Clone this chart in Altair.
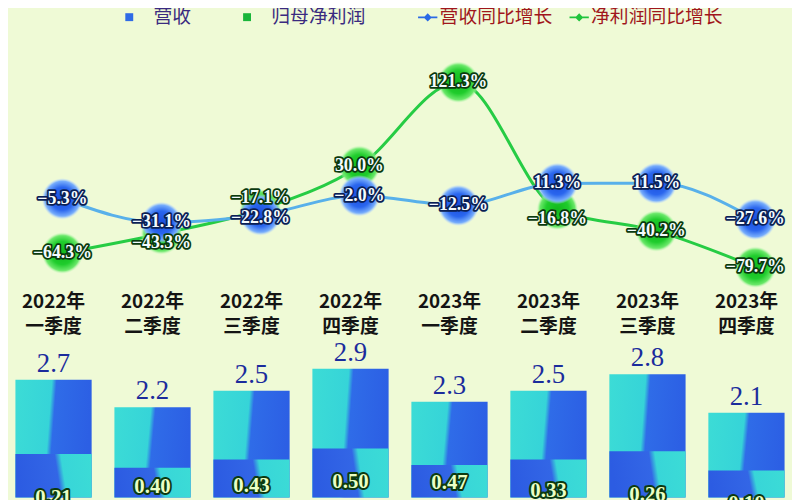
import altair as alt
import pandas as pd

categories = ["2022年 一季度", "2022年 二季度", "2022年 三季度", "2022年 四季度",
              "2023年 一季度", "2023年 二季度", "2023年 三季度", "2023年 四季度"]
revenue = [2.7, 2.2, 2.5, 2.9, 2.3, 2.5, 2.8, 2.1]
net_profit = [0.21, 0.40, 0.43, 0.50, 0.47, 0.33, 0.26, 0.10]
revenue_yoy = [-5.3, -31.1, -22.8, -2.0, -12.5, 11.3, 11.5, -27.6]
profit_yoy = [-64.3, -43.3, -17.1, 30.0, 121.3, -16.8, -40.2, -79.7]
bar_series = ["营收", "归母净利润"]
line_series = ["营收同比增长", "净利润同比增长"]

df = pd.DataFrame({"cat": categories, "rev": revenue, "np": net_profit,
                   "rev_yoy": revenue_yoy, "np_yoy": profit_yoy})

W, H = 792, 492
ybar = alt.Scale(domain=[0.558, 9.423], zero=False, nice=False)
yline = alt.Scale(domain=[-329.8, 199.2], zero=False, nice=False)

x = alt.X("cat:N", sort=categories,
          scale=alt.Scale(range=[-4, 796], paddingInner=0.23, paddingOuter=0.115),
          axis=alt.Axis(orient="bottom", offset=-209, domain=False, ticks=False, grid=False,
                        labelAngle=0, labelExpr="split(datum.label, ' ')",
                        labelFont="Noto Sans CJK SC", labelFontWeight="bold", labelFontSize=19,
                        labelColor="#141414", labelLineHeight=25, labelPadding=2,
                        labelBaseline="top", labelOverlap=False, title=None))

base = alt.Chart(df)

grad_top = alt.LinearGradient(gradient="linear", x1=0, y1=0, x2=1, y2=0.15, stops=[
    alt.GradientStop(offset=0, color="#3cdcd6"),
    alt.GradientStop(offset=0.47, color="#36d4d8"),
    alt.GradientStop(offset=0.53, color="#2f6ce8"),
    alt.GradientStop(offset=1, color="#2c5fe4")])
grad_bot = alt.LinearGradient(gradient="linear", x1=0, y1=0, x2=1, y2=-0.15, stops=[
    alt.GradientStop(offset=0, color="#2c5ce2"),
    alt.GradientStop(offset=0.5, color="#3366e6"),
    alt.GradientStop(offset=0.58, color="#38d6d8"),
    alt.GradientStop(offset=1, color="#3cdcd6")])

legend_bars = base.transform_fold(["rev", "np"], as_=["key", "val"]).transform_calculate(
    bseries="datum.key == 'rev' ? '营收' : '归母净利润'"
).mark_bar(opacity=0, clip=True).encode(
    x=x,
    y=alt.Y("val:Q", scale=ybar, axis=None),
    y2=alt.datum(0),
    fill=alt.Fill("bseries:N", scale=alt.Scale(domain=bar_series, range=["#2f6be6", "#19b53a"]),
                  legend=alt.Legend(orient="none", legendX=113, legendY=-3, direction="horizontal",
                                    title=None, symbolType="square", symbolSize=64, symbolOpacity=1,
                                    symbolStrokeWidth=0, labelFont="Noto Sans CJK SC",
                                    labelFontSize=19, labelColor="#3a2a80", labelOffset=15,
                                    columnPadding=46)),
)

diamond_line = "M-1,-0.09L1,-0.09L1,0.09L-1,0.09ZM0,-0.42L0.42,0L0,0.42L-0.42,0Z"
legend_lines = base.transform_fold(["rev_yoy", "np_yoy"], as_=["key", "val"]).transform_calculate(
    lseries="datum.key == 'rev_yoy' ? '营收同比增长' : '净利润同比增长'"
).mark_point(opacity=0, filled=True).encode(
    x=x,
    y=alt.Y("val:Q", scale=yline, axis=None),
    color=alt.Color("lseries:N", scale=alt.Scale(domain=line_series, range=["#2a6ae6", "#1fc43c"]),
                    legend=alt.Legend(orient="none", legendX=414, legendY=-3, direction="horizontal",
                                      title=None, symbolType=diamond_line, symbolSize=380,
                                      symbolOpacity=1, symbolStrokeWidth=0,
                                      labelFont="Noto Sans CJK SC", labelFontSize=19,
                                      labelColor="#a0161c", labelOffset=2, columnPadding=16)),
)

bars_top = base.mark_bar(clip=True, color=grad_top).encode(
    x=x, y=alt.Y("rev:Q", scale=ybar, axis=None), y2=alt.datum(0))
bars_bot = base.transform_calculate(half="datum.rev / 2").mark_bar(clip=True, color=grad_bot).encode(
    x=x, y=alt.Y("half:Q", scale=ybar, axis=None), y2=alt.datum(0))

rev_labels = base.mark_text(font="Liberation Serif", fontSize=27, color="#1b2c9c",
                            baseline="bottom", dy=-2).encode(
    x=x, y=alt.Y("rev:Q", scale=ybar, axis=None), text=alt.Text("rev:Q", format=".1f"))

np_out = base.mark_text(font="Liberation Serif", fontWeight="bold", fontSize=21, color="#0c3a10",
                        stroke="#0c3a10", strokeWidth=4, strokeJoin="round", dy=-19).encode(
    x=x, y=alt.Y("np:Q", scale=ybar, axis=None), text=alt.Text("np:Q", format=".2f"))
np_in = base.mark_text(font="Liberation Serif", fontWeight="bold", fontSize=21, color="#eaffc6",
                       dy=-19).encode(
    x=x, y=alt.Y("np:Q", scale=ybar, axis=None), text=alt.Text("np:Q", format=".2f"))

line_np = base.mark_line(color="#26cc44", strokeWidth=3, interpolate="monotone", xOffset=9).encode(
    x=x, y=alt.Y("np_yoy:Q", scale=yline, axis=None))
line_rev = base.mark_line(color="#58b0ea", strokeWidth=3, interpolate="monotone", xOffset=9).encode(
    x=x, y=alt.Y("rev_yoy:Q", scale=yline, axis=None))

rad_green = alt.RadialGradient(gradient="radial", x1=0.5, y1=0.5, r1=0, x2=0.5, y2=0.5, r2=0.5, stops=[
    alt.GradientStop(offset=0, color="#12b81c"),
    alt.GradientStop(offset=0.55, color="#1fcc2c"),
    alt.GradientStop(offset=0.85, color="#6be86a"),
    alt.GradientStop(offset=1, color="rgba(200,250,190,0)")])
rad_blue = alt.RadialGradient(gradient="radial", x1=0.5, y1=0.5, r1=0, x2=0.5, y2=0.5, r2=0.5, stops=[
    alt.GradientStop(offset=0, color="#1a4ddc"),
    alt.GradientStop(offset=0.55, color="#2a66ee"),
    alt.GradientStop(offset=0.85, color="#78aefc"),
    alt.GradientStop(offset=1, color="rgba(200,225,255,0)")])

mk_np = base.mark_point(filled=True, shape="circle", size=1750, opacity=1, fill=rad_green,
                        strokeWidth=0, xOffset=9).encode(
    x=x, y=alt.Y("np_yoy:Q", scale=yline, axis=None))
mk_rev = base.mark_point(filled=True, shape="circle", size=1750, opacity=1, fill=rad_blue,
                         strokeWidth=0, xOffset=9).encode(
    x=x, y=alt.Y("rev_yoy:Q", scale=yline, axis=None))

lab_calc = dict(
    rev_lab="format(datum.rev_yoy, '.1f') + '%'",
    np_lab="format(datum.np_yoy, '.1f') + '%'",
    np_pos="abs(datum.np_yoy - datum.rev_yoy) < 30 ? datum.np_yoy + (datum.np_yoy > datum.rev_yoy ? 13 : -10) : datum.np_yoy",
    rev_pos="abs(datum.np_yoy - datum.rev_yoy) < 30 && datum.np_yoy > datum.rev_yoy ? datum.rev_yoy - 3 : datum.rev_yoy",
)
lbase = base.transform_calculate(**lab_calc)

def yoy_labels(field, ypos, outline):
    o = lbase.mark_text(font="Liberation Serif", fontWeight="bold", fontSize=18, color=outline,
                        stroke=outline, strokeWidth=3.5, strokeJoin="round", xOffset=9).encode(
        x=x, y=alt.Y(ypos + ":Q", scale=yline, axis=None), text=field + ":N")
    i = lbase.mark_text(font="Liberation Serif", fontWeight="bold", fontSize=18, color="#f4fbff",
                        xOffset=9).encode(
        x=x, y=alt.Y(ypos + ":Q", scale=yline, axis=None), text=field + ":N")
    return [o, i]

layers = [legend_bars, legend_lines, bars_top, bars_bot, rev_labels, np_out, np_in,
          line_np, line_rev, mk_np, mk_rev]
layers += yoy_labels("np_lab", "np_pos", "#0a3a0e")
layers += yoy_labels("rev_lab", "rev_pos", "#0a1f55")

chart = alt.layer(*layers).resolve_scale(y="independent").properties(
    width=W, height=H, autosize=alt.AutoSizeParams(type="none"), padding=0,
    background="#effad6"
).configure_view(strokeWidth=0)

chart.save("out.html", embed_options={"renderer": "svg", "actions": False})
